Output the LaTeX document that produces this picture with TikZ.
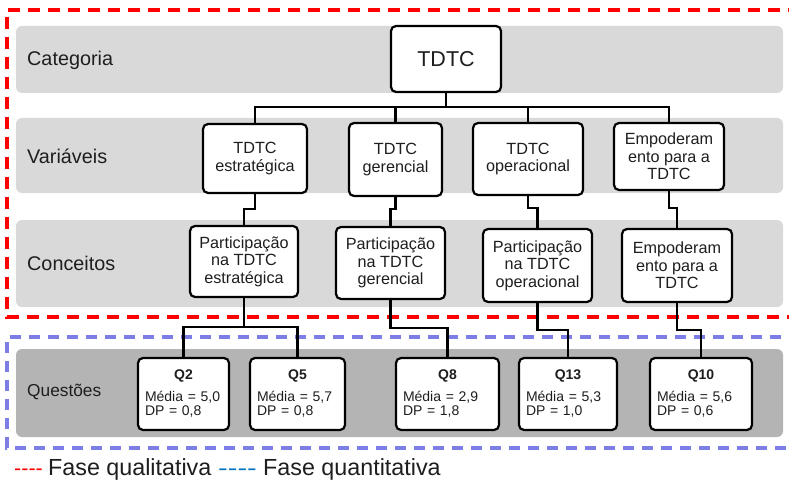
\documentclass[tikz,border=0pt]{standalone}
\usepackage{fontspec}
\usepackage{graphicx}
\setmainfont{Liberation Sans}
\definecolor{bandlight}{RGB}{217,217,217}
\definecolor{banddark}{RGB}{180,180,180}
\definecolor{qualred}{RGB}{255,0,0}
\definecolor{quantlav}{RGB}{125,125,230}
\definecolor{quantblue}{RGB}{0,112,192}
\definecolor{ink}{RGB}{30,30,30}
\begin{document}
\begin{tikzpicture}[x=1pt,y=-1pt,
  band/.style={rounded corners=6pt},
  bandlabel/.style={anchor=west,inner sep=0pt,text=ink,font=\fontsize{19.8}{22}\selectfont},
  box/.style={draw=black,line width=2.2pt,rounded corners=5pt,fill=white,align=center,
    inner sep=0pt,text=ink,font=\fontsize{16.2}{17.5}\selectfont},
  qbox/.style={draw=black,line width=2.2pt,rounded corners=5pt,fill=white,align=left,
    inner sep=0pt,text=ink,minimum height=72pt,font=\fontsize{14}{14.5}\selectfont},
  link/.style={line width=2.2pt,draw=black},
  phase/.style={line width=3.6pt},
  legtext/.style={anchor=base west,inner sep=0pt,text=ink,font=\fontsize{23.3}{26}\selectfont},
  legdash/.style={anchor=base west,inner sep=0pt,font=\fontsize{21.5}{26}\selectfont}]
\useasboundingbox (0,0) rectangle (789,481);
\clip (0,0) rectangle (789,481);

% horizontal bands
\fill[band,bandlight] (16,26) rectangle (783,93);
\fill[band,bandlight] (16,118) rectangle (783,193);
\fill[band,bandlight] (16,220) rectangle (783,307);
\fill[band,banddark] (16,349) rectangle (783,437);

\node[bandlabel] (lcat) at (27,60) {Categoria};
\node[bandlabel] (lvar) at (27,156) {Variáveis};
\node[bandlabel] (lcon) at (27,263) {Conceitos};
\node[bandlabel,font=\fontsize{17.3}{20}\selectfont] (lque) at (27,392) {Questões};

% phase frames (open on the right)
\draw[phase,qualred,dash pattern=on 12pt off 8pt] (800,10) -- (7,10) -- (7,317) -- (800,317);
\draw[phase,quantlav,dash pattern=on 11pt off 8pt] (800,337) -- (7,337) -- (7,448) -- (800,448);

% category
\node[box,minimum width=110pt,minimum height=66pt,font=\fontsize{21.5}{24}\selectfont] (tdtc) at (446,59) {TDTC};

% variables
\node[box,minimum width=104pt,minimum height=69pt] (v1) at (255,158.5) {TDTC\\estratégica};
\node[box,minimum width=93pt,minimum height=73pt] (v2) at (395.5,159.5) {TDTC\\gerencial};
\node[box,minimum width=110pt,minimum height=72pt] (v3) at (528,159) {TDTC\\operacional};
\node[box,minimum width=110pt,minimum height=67pt] (v4) at (669,156.5) {Empoderam\\ento para a\\TDTC};

% concepts
\node[box,minimum width=108pt,minimum height=71pt] (c1) at (244,261.5) {Participação\\na TDTC\\estratégica};
\node[box,minimum width=109pt,minimum height=72pt] (c2) at (390.5,263) {Participação\\na TDTC\\gerencial};
\node[box,minimum width=109pt,minimum height=73pt] (c3) at (537.5,265.5) {Participação\\na TDTC\\operacional};
\node[box,minimum width=110pt,minimum height=73pt] (c4) at (677,265.5) {Empoderam\\ento para a\\TDTC};

% questions
\node[qbox,minimum width=91pt,text width=77pt] (q1) at (183.5,394)
  {\makebox[77pt]{\bfseries Q2}\\[7pt]Média = 5,0\\DP = 0,8};
\node[qbox,minimum width=95pt,text width=81pt] (q2) at (297.5,394)
  {\makebox[81pt]{\bfseries Q5}\\[7pt]Média = 5,7\\DP = 0,8};
\node[qbox,minimum width=103pt,text width=89pt] (q3) at (447.5,394)
  {\makebox[89pt]{\bfseries Q8}\\[7pt]Média = 2,9\\DP = 1,8};
\node[qbox,minimum width=98pt,text width=84pt] (q4) at (568,394)
  {\makebox[84pt]{\bfseries Q13}\\[7pt]Média = 5,3\\DP = 1,0};
\node[qbox,minimum width=102pt,text width=88pt] (q5) at (701,394)
  {\makebox[88pt]{\bfseries Q10}\\[7pt]Média = 5,6\\DP = 0,6};

% connectors: category to variables
\coordinate (bus) at (tdtc.south |- 0,107);
\draw[link] (tdtc.south) -- (bus);
\draw[link] (bus) -| (v1.north);
\draw[link] (bus) -| (v2.north);
\draw[link] (bus) -| (v3.north);
\draw[link] (bus) -| (v4.north);

% variables to concepts
\draw[link] (v1.south) -- (v1.south |- 0,209) -| (c1.north);
\draw[link] (v2.south) -- (v2.south |- 0,209) -| (c2.north);
\draw[link] (v3.south) -- (v3.south |- 0,208) -| (c3.north);
\draw[link] (v4.south) -- (v4.south |- 0,208) -| (c4.north);

% concepts to questions
\coordinate (j1) at (c1.south |- 0,327);
\draw[link] (c1.south) -- (j1);
\draw[link] (j1) -| (q1.north);
\draw[link] (j1) -| (q2.north);
\draw[link] (c2.south) -- (c2.south |- 0,328) -| (q3.north);
\draw[link] (c3.south) -- (c3.south |- 0,330) -| (q4.north);
\draw[link] (c4.south) -- (c4.south |- 0,330) -| (q5.north);

% legend
\node[legdash,text=qualred] (dqual) at (14,475) {-\kern0pt-\kern0pt-\kern0pt-};
\node[legtext] (legqual) at (48,475) {Fase qualitativa};
\node[legdash,text=quantblue] (dquant) at (218,475) {\scalebox{1.35}[1]{-\kern0pt-\kern0pt-\kern0pt-}};
\node[legtext] (legquant) at (263,475) {Fase quantitativa};
\end{tikzpicture}
\end{document}
